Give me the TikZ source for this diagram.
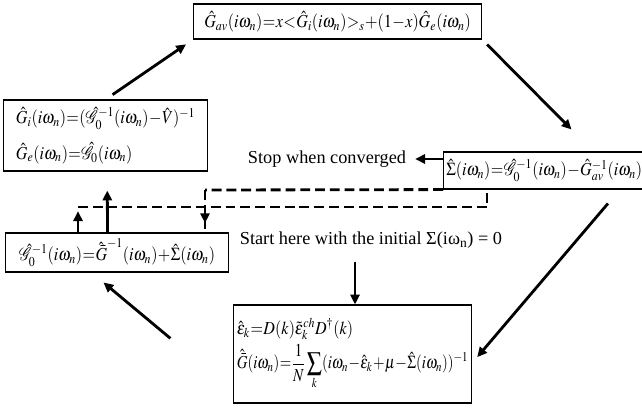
\documentclass[tikz,border=0pt]{standalone}
\usepackage{mathptmx}
\usepackage{fontspec}
\setmainfont{Liberation Serif}
\usetikzlibrary{arrows.meta,calc,decorations.markings}

\newcommand{\eqsize}{\fontsize{13}{16}\selectfont\thickmuskip=0.5mu\medmuskip=0.5mu}
\newcommand{\squeeze}[2][0.88]{\scalebox{#1}[1]{#2}}

\begin{document}
\begin{tikzpicture}[
    x=0.025cm, y=-0.025cm,
    eqbox/.style={draw, line width=0.8pt, inner xsep=2pt, inner ysep=1pt, font=\eqsize, anchor=west},
    note/.style={font=\fontsize{13}{16}\selectfont},
    flow/.style={-{Triangle[length=7pt,width=6.5pt]}, line width=2pt},
    loopline/.style={line width=2pt, dash pattern=on 7pt off 3.5pt}
]
\useasboundingbox (0,0) rectangle (642,409);

% the equation boxes
\node[eqbox, minimum width=7.2cm, minimum height=0.875cm] (gav) at (193,21.5)
    {\squeeze{$\hat G_{av}(i\omega_n)=x<\hat G_i(i\omega_n)>_s+(1-x)\hat G_e(i\omega_n)$}};
\node[eqbox, align=left, minimum width=5.1cm, minimum height=1.775cm] (ibox) at (3,135.5)
    {\squeeze{$\hat G_i(i\omega_n)=(\hat{\mathcal G}_0^{-1}(i\omega_n)-\hat V)^{-1}$}\\[8pt]
     \squeeze{$\hat G_e(i\omega_n)=\hat{\mathcal G}_0(i\omega_n)$}};
\node[eqbox, minimum width=4.9cm, minimum height=0.925cm] (sigma) at (443,170.5)
    {\squeeze{$\hat\Sigma(i\omega_n)=\hat{\mathcal G}_0^{-1}(i\omega_n)-\hat G_{av}^{-1}(i\omega_n)$}};
\node[eqbox, minimum width=5.575cm, minimum height=0.975cm] (g0) at (5,252.5)
    {\squeeze{$\hat{\mathcal G}_0^{-1}(i\omega_n)=\hat{\bar G}^{-1}(i\omega_n)+\hat\Sigma(i\omega_n)$}};
\node[eqbox, align=left, minimum width=5.95cm, minimum height=2.45cm] (bottom) at (233,354)
    {\squeeze{$\hat\varepsilon_k=D(k)\tilde\varepsilon_k^{ch}D^\dagger(k)$}\\[2pt]
     \squeeze[0.81]{$\displaystyle\hat{\bar G}(i\omega_n)=\frac{1}{N}\sum_k(i\omega_n-\hat\varepsilon_k+\mu-\hat\Sigma(i\omega_n))^{-1}$}};

% the two remarks
\node[note, anchor=east] (stop) at (411,159) {Stop when converged};
\node[note] (start) at (371,240) {Start here with the initial Σ(iω\textsubscript{n}) = 0};
\coordinate (startfoot) at ($(start.south)+(-16,0)$);

% outer loop
\draw[flow, shorten <=6pt, shorten >=6pt] (ibox.north) -- (gav.south west);
\draw[flow, shorten <=5pt, shorten >=22pt] (gav.south east) -- ($(sigma.north)+(49,0)$);
\draw[flow, shorten <=13pt, shorten >=5.5pt] ($(sigma.south)+(75.5,0)$) -- ($(bottom.east)+(0,9)$);
\draw[flow, shorten <=58pt, shorten >=11pt] ($(bottom.west)+(0,36.6)$) -- ($(g0.south)+(-25.5,0)$);
\draw[flow, shorten >=13.5pt] ($(g0.north)+(-9.5,0)$) -- ($(ibox.south)+(1.5,0)$);

% inner loop (dashed)
\coordinate (lowL) at (78,207);
\coordinate (lowR) at (487,207);
\coordinate (upL) at (205,190);
\draw[flow, shorten >=3pt] (g0.north -| lowL) -- (lowL);
\draw[loopline] (lowL) -- (lowR) -- (sigma.south -| lowR);
\draw[loopline] (sigma.south west) -- (upL);
\draw[loopline, decoration={markings, mark=at position 0.78 with {\arrow{Triangle[length=7pt,width=6.5pt]}}},
    postaction={decorate}] (upL) -- (g0.north -| upL);

% start and stop
\draw[flow, shorten >=3pt] (sigma.west |- stop.east) -- (stop.east);
\draw[flow, shorten <=6pt] (startfoot) -- (startfoot |- bottom.north);

\end{tikzpicture}
\end{document}
